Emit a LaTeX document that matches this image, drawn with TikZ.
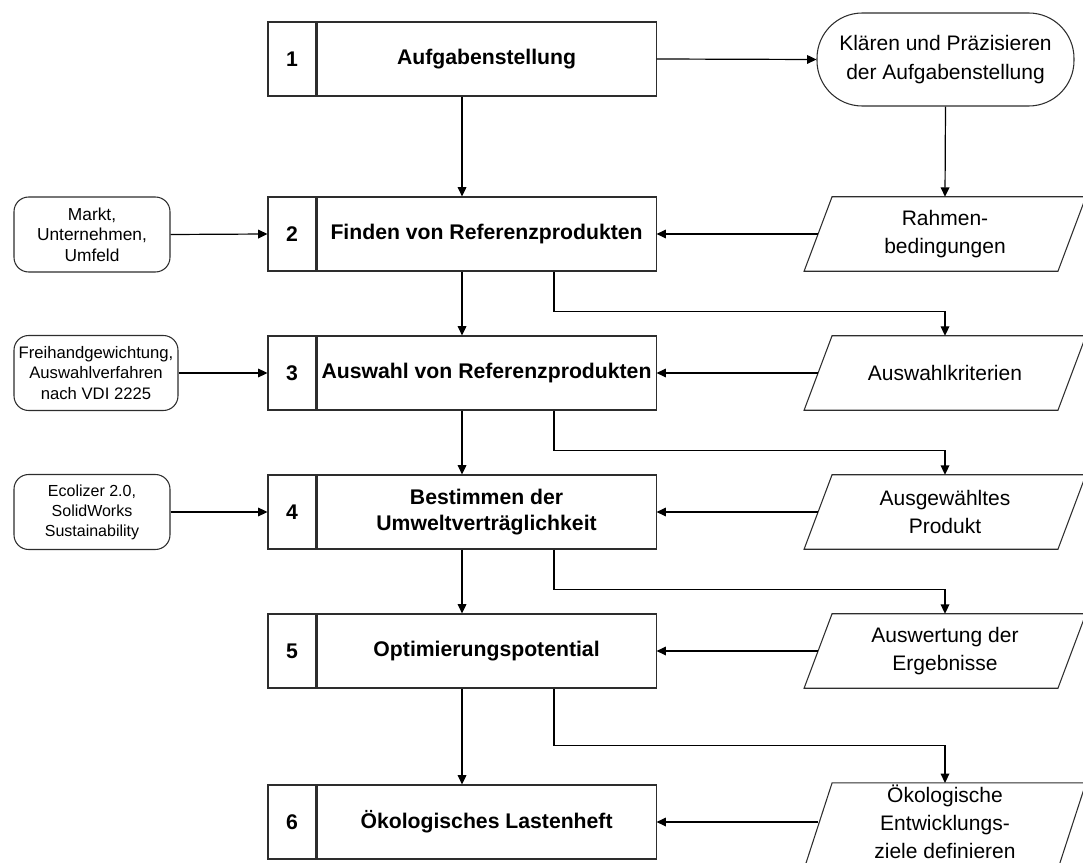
\documentclass[tikz,border=0pt]{standalone}
\usepackage{fontspec}
\setmainfont{Liberation Sans}
\usetikzlibrary{arrows.meta,positioning,calc}
\definecolor{lineGray}{RGB}{45,45,45}

\tikzset{
  numbox/.style={draw=lineGray, line width=0.8pt, minimum width=36pt, minimum height=55.5pt,
    inner sep=0pt, font=\fontsize{15.9}{19}\selectfont\bfseries},
  titlebox/.style={draw=lineGray, line width=0.8pt, minimum width=254.25pt, minimum height=55.5pt,
    inner sep=1pt, align=center, font=\fontsize{15.9}{19}\selectfont\bfseries},
  toolbox/.style={draw=lineGray, line width=0.8pt, rounded corners=11pt, minimum width=117pt,
    minimum height=56.25pt, inner sep=1pt, align=center, font=\fontsize{12.5}{15.4}\selectfont},
  databox/.style={minimum width=190pt, minimum height=55.5pt, inner sep=1pt, align=center,
    font=\fontsize{15.75}{21}\selectfont},
  dataline/.style={draw=lineGray, line width=0.8pt, line join=miter},
  arr/.style={-{Triangle[length=7pt,width=6.5pt]}, line width=0.9pt},
}

\begin{document}
\begin{tikzpicture}[x=0.75pt,y=-0.75pt]
  \useasboundingbox (0,0) rectangle (1083,863);

  % Steps 1-6
  \node[numbox] (n1) at (292,59) {1};
  \node[titlebox, right=0pt of n1] (t1) {Aufgabenstellung};
  \node[numbox] (n2) at (292,234) {2};
  \node[titlebox, right=0pt of n2] (t2) {Finden von Referenzprodukten};
  \node[numbox] (n3) at (292,373) {3};
  \node[titlebox, right=0pt of n3] (t3) {Auswahl von Referenzprodukten};
  \node[numbox] (n4) at (292,512) {4};
  \node[titlebox, right=0pt of n4] (t4) {Bestimmen der\\Umweltverträglichkeit};
  \node[numbox] (n5) at (292,651) {5};
  \node[titlebox, right=0pt of n5] (t5) {Optimierungspotential};
  \node[numbox] (n6) at (292,822) {6};
  \node[titlebox, right=0pt of n6] (t6) {Ökologisches Lastenheft};

  % Clarifying the task
  \node[draw=lineGray, line width=0.8pt, rounded corners=34pt, minimum width=192.75pt,
    minimum height=69.75pt, align=center, font=\fontsize{15.75}{22}\selectfont]
    (kp) at (945.5,59.5) {Klären und Präzisieren\\der Aufgabenstellung};

  % Inputs / results (right), outline drawn below
  \node[databox] (d2) at (945,234) {Rahmen-\\bedingungen};
  \node[databox] (d3) at (945,373) {Auswahlkriterien};
  \node[databox] (d4) at (945,512) {Ausgewähltes\\Produkt};
  \node[databox] (d5) at (945,651) {Auswertung der\\Ergebnisse};
  \node[databox, minimum height=60pt, text depth=7pt] (d6) at (945,826)
    {Ökologische\\Entwicklungs-\\ziele definieren};

  % parallelogram outlines, slant 28px
  \foreach \d in {d2,d3,d4,d5,d6}
    \draw[dataline] ([xshift=-10.5pt]\d.south west) -- ([xshift=10.5pt]\d.north west)
      -- ([xshift=10.5pt]\d.north east) -- ([xshift=-10.5pt]\d.south east) -- cycle;

  % Methods and tools (left)
  \node[toolbox, font=\fontsize{13}{15.4}\selectfont] (w2) at (92,234.5) {Markt,\\Unternehmen,\\Umfeld};
  \node[toolbox, minimum width=123pt] (w3) at (96,373) {Freihandgewichtung,\\Auswahlverfahren\\nach VDI 2225};
  \node[toolbox, font=\fontsize{12}{15}\selectfont] (w4) at (92,512) {Ecolizer 2.0,\\SolidWorks\\Sustainability};

  % Main flow
  \draw[arr] ($(n1.south west)!0.5!(t1.south east)$) -- ($(n2.north west)!0.5!(t2.north east)$);
  \draw[arr] ($(n2.south west)!0.5!(t2.south east)$) -- ($(n3.north west)!0.5!(t3.north east)$);
  \draw[arr] ($(n3.south west)!0.5!(t3.south east)$) -- ($(n4.north west)!0.5!(t4.north east)$);
  \draw[arr] ($(n4.south west)!0.5!(t4.south east)$) -- ($(n5.north west)!0.5!(t5.north east)$);
  \draw[arr] ($(n5.south west)!0.5!(t5.south east)$) -- ($(n6.north west)!0.5!(t6.north east)$);

  \draw[arr] (t1.east) -- (kp.west);
  \draw[arr] (kp.south) -- (d2.north);

  % Tools into steps
  \draw[arr] (w2.east) -- (n2.west);
  \draw[arr] (w3.east) -- (n3.west);
  \draw[arr] (w4.east) -- (n4.west);

  % Inputs into steps
  \draw[arr] (d2.west) -- (t2.east);
  \draw[arr] (d3.west) -- (t3.east);
  \draw[arr] (d4.west) -- (t4.east);
  \draw[arr] (d5.west) -- (t5.east);
  \draw[arr] (d6.west |- t6.east) -- (t6.east);

  % Results of steps
  \draw[arr] ($(t2.south)+(67.5,0)$) -- ++(0,40) -| (d3.north);
  \draw[arr] ($(t3.south)+(67.5,0)$) -- ++(0,40) -| (d4.north);
  \draw[arr] ($(t4.south)+(67.5,0)$) -- ++(0,40) -| (d5.north);
  \draw[arr] ($(t5.south)+(67.5,0)$) -- ++(0,57) -| (d6.north);
\end{tikzpicture}
\end{document}
